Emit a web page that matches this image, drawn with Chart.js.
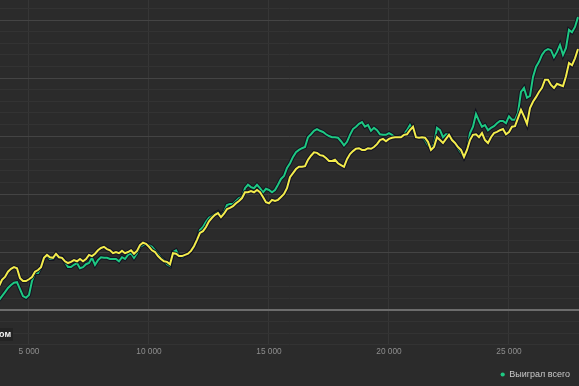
<!DOCTYPE html>
<html>
<head>
<meta charset="utf-8">
<script src="https://cdn.jsdelivr.net/npm/chart.js@4.4.1/dist/chart.umd.min.js"></script>
<style>
  html, body { margin: 0; padding: 0; background: #2b2b2b; }
  #wrap { width: 579px; height: 386px; }
</style>
</head>
<body>
<div id="wrap"><canvas id="chart" width="579" height="386"></canvas></div>
<script>
// games played (x axis)
const games = [
  3750, 3875, 4000, 4125, 4250, 4375, 4500, 4625,
  4750, 4875, 5000, 5125, 5250, 5375, 5500, 5625,
  5750, 5875, 6000, 6125, 6250, 6375, 6500, 6625,
  6750, 6875, 7000, 7125, 7250, 7375, 7500, 7625,
  7750, 7875, 8000, 8125, 8250, 8375, 8500, 8625,
  8750, 8875, 9000, 9125, 9250, 9375, 9500, 9625,
  9750, 9875, 10000, 10125, 10250, 10375, 10500, 10625,
  10750, 10875, 11000, 11125, 11250, 11375, 11500, 11625,
  11750, 11875, 12000, 12125, 12250, 12375, 12500, 12625,
  12750, 12875, 13000, 13125, 13250, 13375, 13500, 13625,
  13750, 13875, 14000, 14125, 14250, 14375, 14500, 14625,
  14750, 14875, 15000, 15125, 15250, 15375, 15500, 15625,
  15750, 15875, 16000, 16125, 16250, 16375, 16500, 16625,
  16750, 16875, 17000, 17125, 17250, 17375, 17500, 17625,
  17750, 17875, 18000, 18125, 18250, 18375, 18500, 18625,
  18750, 18875, 19000, 19125, 19250, 19375, 19500, 19625,
  19750, 19875, 20000, 20125, 20250, 20375, 20500, 20625,
  20750, 20875, 21000, 21125, 21250, 21375, 21500, 21625,
  21750, 21875, 22000, 22125, 22250, 22375, 22500, 22625,
  22750, 22875, 23000, 23125, 23250, 23375, 23500, 23625,
  23750, 23875, 24000, 24125, 24250, 24375, 24500, 24625,
  24750, 24875, 25000, 25125, 25250, 25375, 25500, 25625,
  25750, 25875, 26000, 26125, 26250, 26375, 26500, 26625,
  26750, 26875, 27000, 27125, 27250, 27375, 27500, 27625,
  27750, 27875
];

// "Выиграл всего" (green)
const wonTotal = [
  1.7, 2.4, 3.1, 3.8, 4.3, 4.7, 4.8, 3.6,
  2.4, 2.1, 2.6, 5.0, 6.4, 6.4, 7.4, 9.1,
  9.3, 8.8, 8.8, 9.5, 9.0, 9.1, 8.3, 7.4,
  7.4, 7.8, 8.1, 7.2, 7.4, 7.9, 8.1, 9.0,
  7.8, 8.6, 9.1, 9.0, 9.0, 8.8, 8.8, 8.8,
  8.4, 9.1, 8.8, 9.5, 9.8, 9.0, 9.8, 10.9,
  11.2, 11.4, 11.2, 10.9, 10.3, 9.7, 9.0, 8.6,
  7.9, 7.6, 10.0, 10.3, 9.3, 9.1, 9.5, 9.7,
  10.2, 11.0, 12.1, 13.8, 14.3, 15.2, 15.9, 16.2,
  16.6, 16.9, 16.2, 16.9, 18.1, 18.3, 18.3, 18.8,
  19.3, 19.5, 21.0, 21.6, 21.2, 21.0, 21.6, 21.0,
  20.3, 20.9, 20.7, 20.3, 20.7, 21.6, 22.6, 23.1,
  24.5, 25.3, 26.4, 27.2, 27.6, 27.9, 28.1, 29.8,
  30.3, 30.9, 31.2, 30.9, 30.7, 30.3, 30.0, 29.8,
  29.8, 29.7, 29.1, 28.4, 29.0, 30.2, 31.2, 31.6,
  32.1, 32.4, 31.6, 31.9, 30.9, 31.4, 31.0, 30.3,
  30.2, 30.2, 30.5, 30.2, 29.8, 29.8, 30.0, 30.3,
  31.0, 31.9, 31.0, 30.0, 29.7, 29.8, 29.3, 28.4,
  27.9, 28.6, 31.4, 31.0, 29.8, 30.3, 30.3, 29.5,
  28.8, 27.9, 27.1, 26.4, 27.6, 30.5, 31.6, 33.8,
  32.6, 31.6, 31.9, 31.0, 31.4, 31.7, 32.2, 32.6,
  32.6, 32.2, 33.4, 32.8, 32.8, 34.0, 37.6, 38.3,
  36.6, 36.9, 40.2, 41.9, 42.8, 44.0, 44.7, 45.0,
  44.8, 43.6, 44.5, 45.7, 44.0, 45.2, 48.3, 47.9,
  48.8, 50.5
];

// second (yellow) series, not in legend
const secondLine = [
  4.1, 5.2, 5.7, 6.6, 7.1, 7.4, 7.2, 5.5,
  5.0, 5.0, 5.3, 5.7, 6.6, 6.9, 7.4, 9.0,
  9.5, 9.1, 9.0, 9.7, 9.1, 9.0, 8.4, 8.1,
  8.3, 8.6, 8.4, 8.8, 8.4, 8.8, 9.5, 9.3,
  9.7, 10.3, 10.7, 10.9, 10.5, 10.3, 9.8, 10.0,
  9.8, 10.2, 9.8, 10.0, 10.3, 9.7, 10.2, 11.2,
  11.6, 11.4, 10.9, 10.3, 10.0, 9.3, 8.8, 8.4,
  8.3, 7.9, 9.8, 9.7, 9.3, 9.3, 9.5, 9.7,
  10.2, 11.0, 12.1, 13.3, 13.6, 14.3, 15.3, 15.9,
  16.4, 16.7, 16.0, 16.6, 17.4, 17.6, 17.9, 18.4,
  18.8, 19.3, 20.3, 20.3, 20.5, 20.3, 20.7, 20.3,
  19.5, 18.6, 18.4, 19.0, 18.8, 19.0, 19.5, 20.0,
  21.0, 22.9, 23.6, 24.3, 24.7, 24.7, 24.8, 25.9,
  26.6, 27.2, 27.1, 26.7, 26.6, 26.2, 25.7, 25.7,
  25.9, 25.3, 25.0, 24.7, 26.0, 26.9, 27.4, 27.8,
  27.9, 27.6, 27.6, 27.9, 27.8, 28.1, 28.6, 29.3,
  29.5, 29.1, 29.5, 29.7, 29.8, 29.8, 29.8, 30.2,
  30.3, 31.0, 31.6, 29.8, 29.7, 29.8, 29.7, 29.0,
  27.6, 28.1, 29.8, 29.3, 28.8, 29.5, 30.2, 29.3,
  28.8, 28.1, 27.6, 26.4, 27.6, 29.3, 30.2, 30.3,
  29.8, 30.5, 29.3, 28.8, 29.8, 30.5, 30.7, 31.0,
  31.2, 30.3, 30.7, 31.6, 31.7, 33.1, 34.5, 33.4,
  32.1, 34.8, 35.9, 36.7, 37.6, 38.3, 39.7, 39.7,
  38.8, 38.3, 39.0, 38.8, 38.6, 40.3, 42.6, 42.2,
  43.4, 45.0
];

const xTicks = [5000, 10000, 15000, 20000, 25000];
const legendLabel = "Выиграл всего";
const cutLabel = "ом";

const GREEN = "#1ec882";
const YELLOW = "#f3ec4c";
const OUTLINE = "rgba(18,18,32,0.95)";
const FONT = "'Liberation Sans', Arial, sans-serif";

const pts = (ys) => games.map((g, i) => ({ x: g, y: ys[i] }));

function fmt(v) {
  return String(v).replace(/\B(?=(\d{3})+(?!\d))/g, " ");
}

function lineDs(label, ys, color, width, order) {
  return {
    label,
    data: pts(ys),
    borderColor: color,
    backgroundColor: color,
    borderWidth: width,
    pointRadius: 0,
    tension: 0,
    fill: false,
    order
  };
}

// small dark tag with the clipped axis caption on the left
const tagPlugin = {
  id: "cutTag",
  afterDraw(chart) {
    const c = chart.ctx;
    c.save();
    c.fillStyle = "#232323";
    c.fillRect(0, 328, 13, 13);
    c.fillStyle = "#f2f2f2";
    c.font = "bold 9px " + FONT;
    c.textBaseline = "middle";
    c.fillText(cutLabel, -1, 334.5);
    c.restore();
  }
};

new Chart(document.getElementById("chart"), {
  type: "line",
  data: {
    datasets: [
      lineDs("y2", secondLine, YELLOW, 2, 0),
      lineDs("y2o", secondLine, OUTLINE, 4, 1),
      lineDs(legendLabel, wonTotal, GREEN, 2, 2),
      lineDs("g_o", wonTotal, OUTLINE, 4, 3)
    ]
  },
  options: {
    responsive: false,
    animation: false,
    layout: { padding: { top: 0, left: 0, right: 0, bottom: -3 } },
    plugins: {
      tooltip: { enabled: false },
      legend: {
        position: "bottom",
        align: "end",
        labels: {
          generateLabels: (chart) =>
            Chart.defaults.plugins.legend.labels.generateLabels(chart)
              .filter((item) => item.text === legendLabel)
              .map((item) => ({ ...item, lineWidth: 0 })),
          usePointStyle: true,
          pointStyle: "circle",
          boxWidth: 4,
          boxHeight: 3,
          padding: 9,
          color: "#c9c9c9",
          font: { family: FONT, size: 9 }
        }
      }
    },
    scales: {
      x: {
        type: "linear",
        min: 3792,
        max: 27917,
        afterBuildTicks: (s) => { s.ticks = xTicks.map((v) => ({ value: v })); },
        afterFit: (s) => { s.height = 16; },
        ticks: {
          callback: (v) => fmt(v),
          color: "#8e8e8e",
          padding: 2,
          maxRotation: 0,
          font: { family: FONT, size: 8.3 }
        },
        grid: { color: "#363636", drawTicks: false },
        border: { display: false }
      },
      y: {
        min: -6.03,
        max: 53.45,
        ticks: { display: false, stepSize: 2, includeBounds: false },
        grid: {
          drawTicks: false,
          color: (ctx) => {
            const v = Math.round(ctx.tick.value);
            if (v === 0) return "#6c6c6c";
            return v % 10 === 0 ? "#444444" : "#333333";
          },
          lineWidth: (ctx) => (Math.round(ctx.tick.value) === 0 ? 2 : 1)
        },
        border: { display: false }
      }
    }
  },
  plugins: [tagPlugin]
});
</script>
</body>
</html>
